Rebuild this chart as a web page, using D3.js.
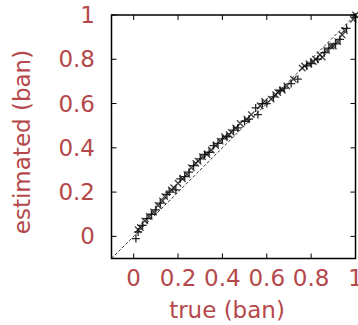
<!DOCTYPE html>
<html>
<head>
<meta charset="utf-8">
<script src="https://cdn.jsdelivr.net/npm/d3@7"></script>
<style>
  body { margin: 0; background: #fff; }
  text { font-family: "DejaVu Sans", sans-serif; fill: #b5484a; }
</style>
</head>
<body>
<div id="chart"></div>
<script>
// tick labels
const tickValues = [0, 0.2, 0.4, 0.6, 0.8, 1];
const tickLabels = ["0", "0.2", "0.4", "0.6", "0.8", "1"];

// series drawn with "+" markers
const plusTrue = [0.01, 0.02, 0.04, 0.06, 0.08, 0.10, 0.12, 0.15, 0.16, 0.19, 0.21, 0.23, 0.25, 0.27, 0.30, 0.32, 0.34, 0.36, 0.38, 0.40, 0.42, 0.45, 0.47, 0.50, 0.52, 0.55, 0.56, 0.58, 0.60, 0.63, 0.66, 0.68, 0.71, 0.74, 0.78, 0.80, 0.83, 0.86, 0.88, 0.91, 0.93, 0.96, 1.00];
const plusEst  = [-0.01, 0.02, 0.05, 0.08, 0.10, 0.12, 0.15, 0.19, 0.20, 0.21, 0.26, 0.27, 0.29, 0.32, 0.35, 0.37, 0.38, 0.41, 0.42, 0.44, 0.45, 0.48, 0.49, 0.52, 0.53, 0.58, 0.55, 0.60, 0.60, 0.63, 0.66, 0.67, 0.69, 0.71, 0.77, 0.78, 0.80, 0.83, 0.85, 0.87, 0.89, 0.94, 0.99];

// series drawn with "x" markers
const crossTrue = [0.02, 0.03, 0.05, 0.07, 0.09, 0.11, 0.13, 0.14, 0.17, 0.18, 0.20, 0.22, 0.24, 0.26, 0.28, 0.29, 0.31, 0.33, 0.35, 0.37, 0.39, 0.41, 0.43, 0.44, 0.46, 0.48, 0.51, 0.53, 0.57, 0.59, 0.62, 0.64, 0.65, 0.67, 0.69, 0.72, 0.76, 0.77, 0.79, 0.81, 0.82, 0.84, 0.85, 0.87, 0.89, 0.90, 0.92, 0.94, 0.95, 0.99, 1.00];
const crossEst  = [0.03, 0.04, 0.07, 0.09, 0.11, 0.14, 0.16, 0.18, 0.21, 0.22, 0.24, 0.26, 0.28, 0.31, 0.33, 0.34, 0.36, 0.37, 0.39, 0.41, 0.43, 0.45, 0.46, 0.47, 0.49, 0.51, 0.53, 0.55, 0.59, 0.61, 0.62, 0.64, 0.65, 0.66, 0.68, 0.71, 0.76, 0.77, 0.78, 0.79, 0.80, 0.82, 0.81, 0.84, 0.86, 0.86, 0.88, 0.91, 0.93, 0.98, 1.00];

const width = 358, height = 325;
const margin = {left: 111.5, right: 2.5, top: 15, bottom: 66.5};

const svg = d3.select("#chart").append("svg")
    .attr("width", width)
    .attr("height", height);

const x = d3.scaleLinear().domain([-0.1, 1]).range([margin.left, width - margin.right]);
const y = d3.scaleLinear().domain([-0.1, 1]).range([height - margin.bottom, margin.top]);

const tickLen = 5;
const plot = svg.append("g");

// inward ticks on all four sides
const ticks = plot.append("g").attr("stroke", "#000").attr("stroke-width", 1);
tickValues.forEach(v => {
    ticks.append("line").attr("x1", x(v)).attr("x2", x(v)).attr("y1", y(-0.1)).attr("y2", y(-0.1) - tickLen);
    ticks.append("line").attr("x1", x(v)).attr("x2", x(v)).attr("y1", y(1)).attr("y2", y(1) + tickLen);
    ticks.append("line").attr("y1", y(v)).attr("y2", y(v)).attr("x1", x(-0.1)).attr("x2", x(-0.1) + tickLen);
    ticks.append("line").attr("y1", y(v)).attr("y2", y(v)).attr("x1", x(1)).attr("x2", x(1) - tickLen);
});

// y = x reference
plot.append("line")
    .attr("x1", x(-0.1)).attr("y1", y(-0.1))
    .attr("x2", x(1)).attr("y2", y(1))
    .attr("stroke", "#000")
    .attr("stroke-width", 0.8)
    .attr("stroke-dasharray", "3,2");

const s = 4;
const plusData = plusTrue.map((t, i) => [t, plusEst[i]]);
const crossData = crossTrue.map((t, i) => [t, crossEst[i]]);

plot.append("g")
    .attr("stroke", "#000").attr("stroke-opacity", 0.85).attr("stroke-width", 1.3)
    .selectAll("path").data(plusData).join("path")
    .attr("d", d => `M${x(d[0]) - s},${y(d[1])}h${2 * s}M${x(d[0])},${y(d[1]) - s}v${2 * s}`);

plot.append("g")
    .attr("stroke", "#111").attr("stroke-opacity", 0.8).attr("stroke-width", 1.3)
    .selectAll("path").data(crossData).join("path")
    .attr("d", d => `M${x(d[0]) - s * 0.8},${y(d[1]) - s * 0.8}l${1.6 * s},${1.6 * s}M${x(d[0]) - s * 0.8},${y(d[1]) + s * 0.8}l${1.6 * s},${-1.6 * s}`);

// frame
plot.append("rect")
    .attr("x", x(-0.1)).attr("y", y(1))
    .attr("width", x(1) - x(-0.1)).attr("height", y(-0.1) - y(1))
    .attr("fill", "none").attr("stroke", "#000").attr("stroke-width", 1.5);

const fs = 23;

svg.append("g").selectAll("text").data(tickValues).join("text")
    .attr("x", d => x(d))
    .attr("y", 286)
    .attr("text-anchor", "middle")
    .attr("font-size", fs)
    .text((d, i) => tickLabels[i]);

svg.append("g").selectAll("text").data(tickValues).join("text")
    .attr("x", 95)
    .attr("y", d => y(d) + 8)
    .attr("text-anchor", "end")
    .attr("font-size", fs)
    .text((d, i) => tickLabels[i]);

svg.append("text")
    .attr("x", 227).attr("y", 318)
    .attr("text-anchor", "middle")
    .attr("font-size", fs)
    .text("true (ban)");

svg.append("text")
    .attr("transform", "translate(30,142) rotate(-90)")
    .attr("text-anchor", "middle")
    .attr("font-size", fs)
    .text("estimated (ban)");
</script>
</body>
</html>
